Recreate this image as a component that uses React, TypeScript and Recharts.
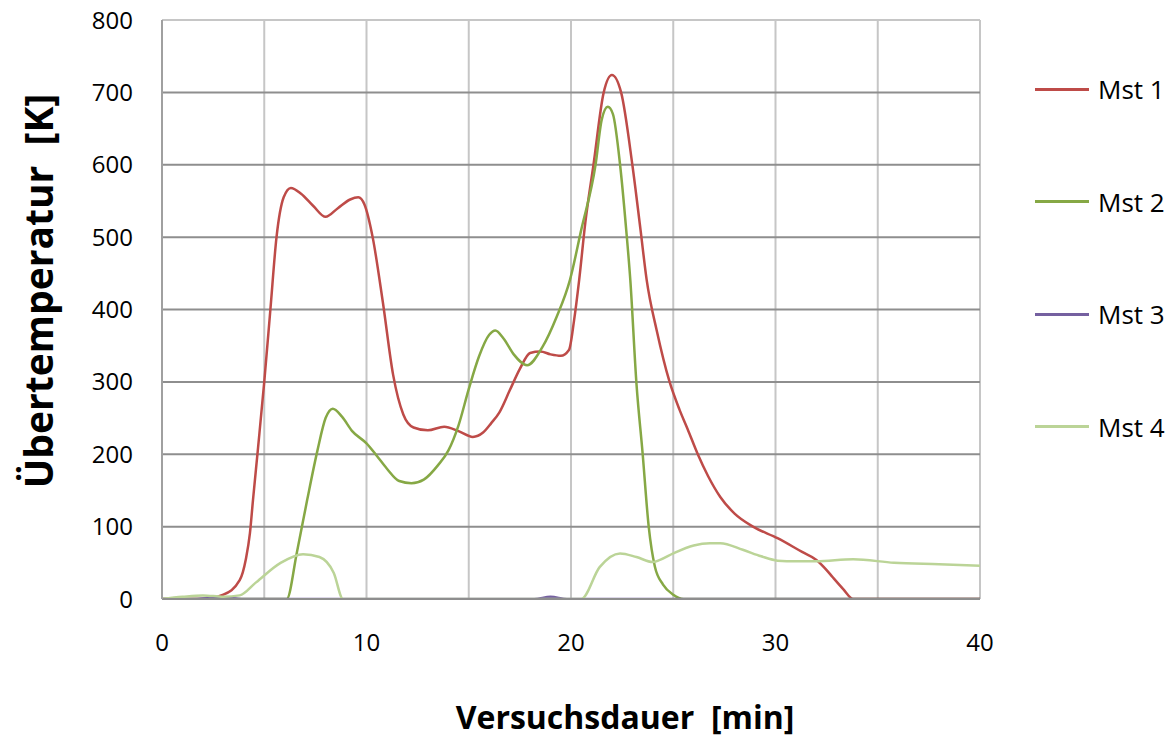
import React from 'react';
import { LineChart, Line, XAxis, YAxis, CartesianGrid, Legend, ReferenceLine } from 'recharts';

const seriesNames = ['Mst 1', 'Mst 2', 'Mst 3', 'Mst 4'];
const seriesColors = ['#BE4B48', '#86A845', '#7560A0', '#BBD497'];

const xTicks = [0, 5, 10, 15, 20, 25, 30, 35, 40];
const xLabeledTicks = [0, 10, 20, 30, 40];
const yTicks = [0, 100, 200, 300, 400, 500, 600, 700, 800];

const mst1Time = [0, 2, 3, 3.8, 4.1, 4.3, 4.45, 4.7, 5, 5.3, 5.6, 5.95, 6.3, 6.8, 7.4, 8.0, 8.6, 9.2, 9.6, 9.9, 10.3, 10.8, 11.3, 11.8, 12.3, 13, 13.8, 14.5, 15.2, 15.7, 16.1, 16.5, 17, 17.5, 18, 18.5, 19, 19.5, 19.9, 20.15, 20.4, 20.7, 21.1, 21.6, 22, 22.45, 23, 23.4, 23.7, 24.2, 24.8, 25.3, 25.7, 26.2, 26.7, 27.3, 28, 28.9, 30.1, 31.3, 32, 32.5, 32.8, 33.3, 33.8, 34.2, 40];
const mst1Values = [0, 0, 6, 26, 55, 91, 137, 210, 300, 400, 500, 555, 568, 560, 543, 528, 540, 552, 555, 545, 500, 410, 310, 255, 237, 233, 238, 232, 224, 230, 243, 258, 288, 318, 340, 342, 338, 336, 344, 385, 441, 520, 600, 700, 724, 700, 600, 510, 441, 370, 302, 262, 235, 200, 170, 141, 118, 100, 84, 65, 54, 40, 30, 14, 0, 0, 0];

const mst2Time = [0, 6.1, 6.6, 7.1, 7.6, 8.0, 8.35, 8.8, 9.3, 10, 10.5, 11, 11.6, 12.2, 12.8, 13.5, 14, 14.5, 15, 15.5, 16, 16.3, 16.7, 17.2, 17.85, 18.6, 19.3, 19.95, 20.5, 21.2, 21.5, 21.8, 22.05, 22.4, 22.7, 22.9, 23.2, 23.5, 23.8, 24.1, 24.5, 25, 25.5, 40];
const mst2Values = [0, 0, 65, 137, 205, 250, 263, 252, 232, 215, 198, 180, 163, 160, 165, 185, 205, 240, 290, 335, 365, 371, 360, 338, 323, 348, 390, 441, 510, 600, 662, 680, 670, 600, 510, 441, 298, 202, 100, 45, 20, 6, 0, 0];

const mst3Time = [0, 1.5, 2.5, 3.5, 4, 18.2, 19, 19.8, 40];
const mst3Values = [0, 0, 1.5, 1, 0, 0, 3, 0, 0];

const mst4Time = [0, 1, 2, 3, 3.8, 4.6, 5.8, 6.9, 7.7, 8.4, 8.85, 20.5, 21.4, 22.4, 23.2, 24, 24.35, 25, 26, 26.8, 27.3, 28.4, 29.3, 30.1, 31, 32, 33.8, 35.8, 38, 40];
const mst4Values = [0, 3, 5, 3, 5, 23, 50, 62, 58, 36, 0, 0, 44, 63, 58, 51, 54, 63, 74, 77, 77, 68, 59, 53, 52, 52, 55, 50, 48, 46];

const toData = (times: number[], values: number[]) => times.map((t, i) => ({ t, v: values[i] }));

const seriesData = [
  toData(mst1Time, mst1Values),
  toData(mst2Time, mst2Values),
  toData(mst3Time, mst3Values),
  toData(mst4Time, mst4Values),
];

const FONT = '"Open Sans", "Noto Sans", sans-serif';

const renderLegend = () => (
  <div style={{ fontFamily: FONT }}>
    {seriesNames.map((name, i) => (
      <div key={name} style={{ height: 112.5, display: 'flex', alignItems: 'center' }}>
        <div style={{ width: 54, height: 3, background: seriesColors[i], marginRight: 9 }} />
        <span style={{ fontSize: 26, color: '#000', lineHeight: '30px' }}>{name}</span>
      </div>
    ))}
  </div>
);

export default function App() {
  return (
    <div style={{ position: 'absolute', left: 0, top: 0, width: 1176, height: 748, background: '#fff' }}>
      <LineChart width={1176} height={748} margin={{ top: 20, right: 56, bottom: 0, left: 0 }}>
        <CartesianGrid horizontal={false} vertical={true} stroke="#C6C6C6" strokeWidth={2} />
        <CartesianGrid horizontal={true} vertical={false} stroke="#8E8E8E" strokeWidth={2} />
        <ReferenceLine y={800} stroke="#C6C6C6" strokeWidth={2} />
        <XAxis
          type="number"
          dataKey="t"
          domain={[0, 40]}
          ticks={xTicks}
          interval={0}
          height={149}
          tickSize={0}
          tickMargin={35}
          tickFormatter={(v: number) => (xLabeledTicks.includes(v) ? String(v) : '')}
          axisLine={{ stroke: '#8E8E8E', strokeWidth: 2 }}
          tick={{ fill: '#000', fontSize: 24, fontFamily: FONT }}
          allowDataOverflow
          label={{
            content: () => (
              <text x={625} y={729} textAnchor="middle" fontFamily={FONT} fontWeight={700} fontSize={32} fill="#000" style={{ whiteSpace: 'pre' }}>
                {'Versuchsdauer  [min]'}
              </text>
            ),
          }}
        />
        <YAxis
          type="number"
          domain={[0, 800]}
          ticks={yTicks}
          interval={0}
          width={162}
          tickSize={0}
          tickMargin={29}
          axisLine={{ stroke: '#A0A0A0', strokeWidth: 2 }}
          tick={{ fill: '#000', fontSize: 24, fontFamily: FONT }}
          allowDataOverflow
          label={{
            content: () => (
              <text
                x={53}
                y={291}
                transform="rotate(-90 53 291)"
                textAnchor="middle"
                fontFamily={FONT}
                fontWeight={700}
                fontSize={39}
                fill="#000"
                style={{ whiteSpace: 'pre' }}
              >
                {'Übertemperatur  [K]'}
              </text>
            ),
          }}
        />
        <Legend
          layout="vertical"
          align="right"
          verticalAlign="top"
          content={renderLegend}
          wrapperStyle={{ position: 'absolute', left: 1035, top: 33, width: 140 }}
        />
        {seriesNames.map((name, i) => (
          <Line
            key={name}
            name={name}
            data={seriesData[i]}
            dataKey="v"
            type="monotone"
            stroke={seriesColors[i]}
            strokeWidth={2.5}
            dot={false}
            activeDot={false}
            isAnimationActive={false}
          />
        ))}
      </LineChart>
    </div>
  );
}
